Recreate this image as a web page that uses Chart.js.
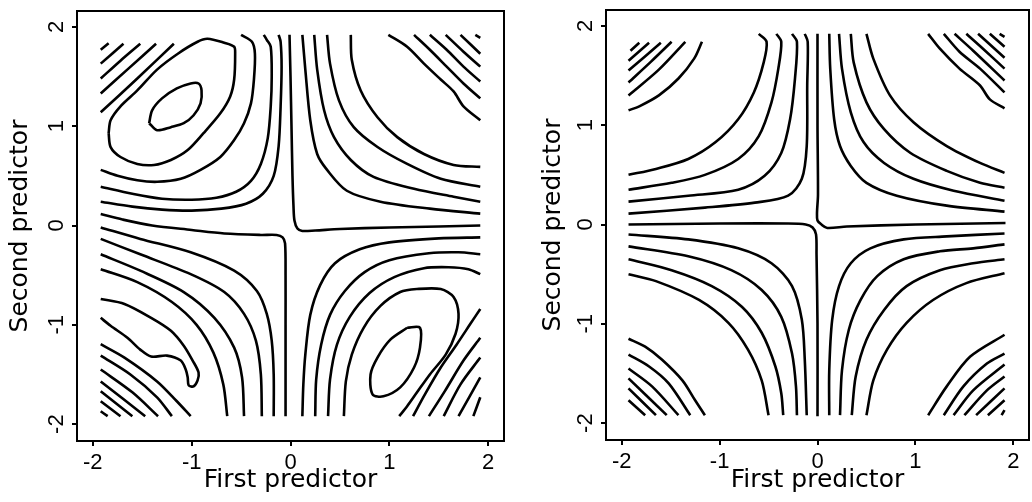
<!DOCTYPE html>
<html>
<head>
<meta charset="utf-8">
<script src="https://cdn.jsdelivr.net/npm/chart.js@4.4.1/dist/chart.umd.min.js"></script>
<style>
  html, body { margin: 0; padding: 0; background: #fff; }
  #wrap { position: relative; width: 1032px; height: 502px; }
  .panel { position: absolute; top: 0; height: 502px; }
</style>
</head>
<body>
<div id="wrap">
  <div class="panel" style="left:0;width:516px"><canvas id="leftChart" width="516" height="502"></canvas></div>
  <div class="panel" style="left:529px;width:503px"><canvas id="rightChart" width="503" height="502"></canvas></div>
</div>
<script>
// axis ticks and titles
const tickValues = [-2, -1, 0, 1, 2];
const xTitle = 'First predictor';
const yTitle = 'Second predictor';

// contour lines, each line is a list of [first, second] points

// left panel
const leftCross = [
  [[-1.92,0.115],[-1.7,0.06],[-1.4,0.0],[-1.0,-0.045],[-0.67,-0.08],[-0.3,-0.095],[-0.14,-0.095],[-0.08,-0.12],[-0.055,-0.18],[-0.05,-0.5],[-0.05,-1.0],[-0.05,-1.5],[-0.05,-1.92]],
  [[-0.01,1.92],[0.0,1.5],[0.01,1.0],[0.02,0.5],[0.03,0.2],[0.04,0.05],[0.07,-0.03],[0.12,-0.055],[0.25,-0.05],[0.5,-0.035],[1.0,-0.02],[1.5,-0.01],[1.92,0.0]]
];
const leftTopLeft = [
  [[-1.92,1.77],[-1.84,1.835]],
  [[-1.92,1.63],[-1.69,1.83]],
  [[-1.92,1.48],[-1.72,1.66],[-1.52,1.83]],
  [[-1.92,1.33],[-1.64,1.58],[-1.36,1.83]],
  [[-1.92,1.14],[-1.55,1.48],[-1.18,1.83]],
  [[-1.84,0.93],[-1.82,1.06],[-1.72,1.2],[-1.55,1.36],[-1.35,1.57],[-1.14,1.73],[-0.94,1.85],[-0.84,1.88],[-0.67,1.84],[-0.57,1.8],[-0.56,1.73],[-0.57,1.47],[-0.61,1.3],[-0.71,1.13],[-0.88,0.93],[-1.04,0.76],[-1.21,0.66],[-1.38,0.61],[-1.55,0.62],[-1.72,0.69],[-1.82,0.79],[-1.84,0.93]],
  [[-1.43,1.03],[-1.4,1.16],[-1.3,1.28],[-1.15,1.38],[-1.01,1.43],[-0.93,1.43],[-0.9,1.36],[-0.91,1.23],[-0.98,1.11],[-1.08,1.03],[-1.21,0.99],[-1.35,0.96],[-1.43,1.03]],
  [[-1.92,0.56],[-1.75,0.5],[-1.55,0.455],[-1.35,0.44],[-1.11,0.47],[-0.91,0.56],[-0.71,0.69],[-0.57,0.86],[-0.47,1.03],[-0.4,1.23],[-0.37,1.47],[-0.36,1.73],[-0.39,1.85],[-0.5,1.92]],
  [[-1.92,0.39],[-1.6,0.32],[-1.3,0.27],[-1.0,0.26],[-0.75,0.28],[-0.55,0.34],[-0.4,0.45],[-0.3,0.62],[-0.23,0.88],[-0.2,1.2],[-0.19,1.5],[-0.2,1.8],[-0.24,1.87],[-0.27,1.92]],
  [[-1.92,0.24],[-1.6,0.19],[-1.3,0.16],[-1.0,0.15],[-0.7,0.17],[-0.45,0.22],[-0.28,0.32],[-0.17,0.5],[-0.12,0.8],[-0.1,1.2],[-0.09,1.6],[-0.1,1.85],[-0.12,1.92]]
];
const leftTopRight = [
  [[0.12,1.92],[0.15,1.57],[0.2,1.06],[0.27,0.72],[0.37,0.56],[0.57,0.35],[0.91,0.24],[1.41,0.17],[1.92,0.12]],
  [[0.24,1.92],[0.27,1.57],[0.34,1.16],[0.44,0.89],[0.61,0.66],[0.84,0.49],[1.25,0.37],[1.65,0.29],[1.92,0.24]],
  [[0.37,1.92],[0.4,1.63],[0.49,1.26],[0.64,0.99],[0.88,0.79],[1.18,0.62],[1.52,0.47],[1.92,0.39]],
  [[0.61,1.92],[0.62,1.67],[0.71,1.36],[0.88,1.09],[1.08,0.89],[1.35,0.72],[1.65,0.61],[1.92,0.59]],
  [[0.99,1.92],[1.18,1.8],[1.35,1.63],[1.52,1.47],[1.65,1.35],[1.75,1.2],[1.92,1.06]],
  [[1.25,1.92],[1.41,1.77],[1.58,1.6],[1.75,1.43],[1.92,1.28]],
  [[1.41,1.92],[1.58,1.77],[1.75,1.6],[1.92,1.45]],
  [[1.57,1.92],[1.75,1.75],[1.92,1.6]],
  [[1.72,1.92],[1.92,1.73]],
  [[1.87,1.92],[1.92,1.89]]
];
const leftBottomLeft = [
  [[-1.92,-0.02],[-1.52,-0.135],[-1.01,-0.27],[-0.57,-0.455],[-0.34,-0.66],[-0.24,-0.89],[-0.19,-1.16],[-0.17,-1.5],[-0.17,-1.92]],
  [[-1.92,-0.135],[-1.52,-0.29],[-1.01,-0.49],[-0.67,-0.67],[-0.47,-0.89],[-0.35,-1.16],[-0.3,-1.5],[-0.29,-1.92]],
  [[-1.92,-0.29],[-1.52,-0.455],[-1.08,-0.67],[-0.77,-0.93],[-0.57,-1.23],[-0.49,-1.53],[-0.47,-1.92]],
  [[-1.92,-0.44],[-1.55,-0.57],[-1.2,-0.77],[-0.95,-1.0],[-0.78,-1.28],[-0.68,-1.6],[-0.64,-1.92]],
  [[-1.92,-0.74],[-1.68,-0.79],[-1.41,-0.93],[-1.21,-1.06],[-1.08,-1.21],[-0.99,-1.36],[-0.93,-1.48],[-0.94,-1.56],[-0.98,-1.62],[-1.03,-1.61],[-1.04,-1.53],[-1.06,-1.45],[-1.11,-1.36],[-1.25,-1.31],[-1.41,-1.32],[-1.52,-1.25],[-1.65,-1.13],[-1.82,-1.01],[-1.92,-0.93]],
  [[-1.92,-1.195],[-1.68,-1.33],[-1.35,-1.57],[-1.15,-1.77],[-1.01,-1.92]],
  [[-1.92,-1.31],[-1.62,-1.5],[-1.35,-1.73],[-1.2,-1.92]],
  [[-1.92,-1.45],[-1.6,-1.68],[-1.34,-1.92]],
  [[-1.92,-1.57],[-1.47,-1.92]],
  [[-1.92,-1.67],[-1.6,-1.92]],
  [[-1.92,-1.77],[-1.72,-1.92]],
  [[-1.92,-1.87],[-1.85,-1.92]]
];
const leftBottomRight = [
  [[1.92,-0.12],[1.5,-0.13],[1.0,-0.17],[0.7,-0.24],[0.45,-0.38],[0.3,-0.6],[0.2,-0.9],[0.15,-1.3],[0.13,-1.6],[0.12,-1.92]],
  [[1.92,-0.29],[1.7,-0.27],[1.4,-0.28],[1.0,-0.35],[0.75,-0.47],[0.55,-0.66],[0.4,-0.9],[0.31,-1.2],[0.26,-1.55],[0.25,-1.92]],
  [[1.92,-0.49],[1.8,-0.44],[1.6,-0.42],[1.35,-0.43],[1.05,-0.52],[0.8,-0.68],[0.6,-0.92],[0.47,-1.2],[0.4,-1.55],[0.38,-1.92]],
  [[0.54,-1.92],[0.56,-1.57],[0.62,-1.3],[0.74,-1.03],[0.91,-0.81],[1.11,-0.67],[1.28,-0.64],[1.52,-0.64],[1.65,-0.72],[1.7,-0.89],[1.67,-1.09],[1.57,-1.3],[1.41,-1.5],[1.28,-1.68],[1.18,-1.82],[1.1,-1.92]],
  [[1.18,-1.03],[1.31,-1.03],[1.31,-1.23],[1.25,-1.43],[1.11,-1.63],[0.94,-1.72],[0.83,-1.7],[0.81,-1.5],[0.88,-1.33],[1.01,-1.15],[1.18,-1.03]],
  [[1.92,-0.84],[1.82,-0.99],[1.68,-1.2],[1.52,-1.43],[1.36,-1.7],[1.24,-1.92]],
  [[1.92,-1.13],[1.75,-1.36],[1.56,-1.67],[1.4,-1.92]],
  [[1.92,-1.33],[1.72,-1.6],[1.55,-1.92]],
  [[1.92,-1.53],[1.7,-1.92]],
  [[1.92,-1.73],[1.85,-1.92]]
];

// right panel
const rightCross = [
  [[-1.93,0.0],[-1.0,0.01],[-0.3,0.01],[-0.12,0.0],[-0.05,-0.03],[-0.015,-0.1],[-0.01,-0.3],[0.0,-1.0],[0.0,-1.93]],
  [[0.0,1.92],[0.0,1.0],[0.005,0.3],[-0.005,0.12],[0.0,0.04],[0.04,0.0],[0.1,-0.035],[0.3,-0.02],[1.0,0.0],[1.92,0.015]]
];
const rightTopLeft = [
  [[-1.91,1.75],[-1.82,1.83]],
  [[-1.93,1.65],[-1.72,1.83]],
  [[-1.93,1.55],[-1.6,1.83]],
  [[-1.93,1.43],[-1.7,1.64],[-1.49,1.84]],
  [[-1.93,1.3],[-1.62,1.56],[-1.35,1.84]],
  [[-1.93,1.15],[-1.82,1.19],[-1.62,1.3],[-1.42,1.47],[-1.26,1.67],[-1.18,1.84]],
  [[-1.93,0.5],[-1.65,0.56],[-1.32,0.66],[-1.04,0.83],[-0.81,1.06],[-0.65,1.33],[-0.55,1.63],[-0.52,1.84],[-0.6,1.92]],
  [[-1.93,0.35],[-1.49,0.42],[-1.15,0.5],[-0.81,0.66],[-0.6,0.89],[-0.47,1.23],[-0.4,1.57],[-0.37,1.84],[-0.42,1.92]],
  [[-1.93,0.23],[-1.32,0.29],[-0.81,0.35],[-0.54,0.49],[-0.37,0.72],[-0.28,1.06],[-0.23,1.47],[-0.21,1.84],[-0.26,1.92]],
  [[-1.93,0.11],[-1.15,0.17],[-0.64,0.22],[-0.3,0.29],[-0.16,0.46],[-0.11,0.79],[-0.105,1.4],[-0.1,1.84],[-0.13,1.92]]
];
const rightTopRight = [
  [[0.12,1.92],[0.13,1.57],[0.17,1.06],[0.23,0.79],[0.34,0.59],[0.5,0.42],[0.81,0.29],[1.32,0.19],[1.91,0.13]],
  [[0.22,1.92],[0.25,1.57],[0.34,1.13],[0.47,0.83],[0.68,0.62],[0.98,0.46],[1.39,0.34],[1.91,0.24]],
  [[0.34,1.92],[0.37,1.63],[0.5,1.23],[0.68,0.96],[0.95,0.72],[1.32,0.54],[1.66,0.42],[1.91,0.37]],
  [[0.5,1.92],[0.57,1.67],[0.74,1.3],[0.98,1.03],[1.32,0.79],[1.66,0.62],[1.91,0.52]],
  [[1.13,1.92],[1.25,1.77],[1.45,1.57],[1.66,1.4],[1.76,1.26],[1.91,1.17]],
  [[1.29,1.92],[1.45,1.74],[1.66,1.57],[1.91,1.33]],
  [[1.4,1.92],[1.59,1.75],[1.91,1.45]],
  [[1.52,1.92],[1.69,1.77],[1.91,1.57]],
  [[1.64,1.92],[1.91,1.68]],
  [[1.76,1.92],[1.91,1.79]],
  [[1.86,1.92],[1.91,1.89]]
];
const rightBottomLeft = [
  [[-1.93,-0.1],[-1.32,-0.15],[-0.81,-0.24],[-0.47,-0.39],[-0.26,-0.62],[-0.16,-0.96],[-0.13,-1.36],[-0.11,-1.92]],
  [[-1.93,-0.22],[-1.32,-0.32],[-0.88,-0.46],[-0.57,-0.66],[-0.37,-0.93],[-0.26,-1.3],[-0.22,-1.63],[-0.21,-1.92]],
  [[-1.93,-0.35],[-1.49,-0.46],[-1.08,-0.62],[-0.77,-0.83],[-0.57,-1.09],[-0.43,-1.43],[-0.37,-1.7],[-0.35,-1.92]],
  [[-1.93,-0.5],[-1.65,-0.57],[-1.21,-0.76],[-0.91,-0.99],[-0.71,-1.26],[-0.57,-1.57],[-0.5,-1.92]],
  [[-1.93,-1.15],[-1.76,-1.23],[-1.59,-1.36],[-1.38,-1.57],[-1.25,-1.77],[-1.15,-1.92]],
  [[-1.93,-1.31],[-1.72,-1.43],[-1.52,-1.6],[-1.3,-1.92]],
  [[-1.93,-1.45],[-1.69,-1.63],[-1.42,-1.92]],
  [[-1.93,-1.55],[-1.54,-1.92]],
  [[-1.93,-1.65],[-1.65,-1.92]],
  [[-1.93,-1.77],[-1.76,-1.92]]
];
const rightBottomRight = [
  [[0.12,-1.92],[0.12,-1.47],[0.15,-0.96],[0.22,-0.62],[0.34,-0.39],[0.54,-0.24],[0.88,-0.15],[1.32,-0.12],[1.91,-0.09]],
  [[0.23,-1.92],[0.25,-1.47],[0.32,-1.06],[0.44,-0.76],[0.61,-0.52],[0.88,-0.35],[1.25,-0.27],[1.59,-0.24],[1.91,-0.2]],
  [[0.35,-1.92],[0.39,-1.53],[0.5,-1.16],[0.68,-0.86],[0.91,-0.62],[1.25,-0.46],[1.59,-0.39],[1.91,-0.35]],
  [[0.5,-1.92],[0.57,-1.57],[0.71,-1.26],[0.91,-0.99],[1.18,-0.76],[1.52,-0.59],[1.91,-0.49]],
  [[1.13,-1.92],[1.32,-1.63],[1.56,-1.33],[1.91,-1.11]],
  [[1.29,-1.92],[1.49,-1.63],[1.73,-1.4],[1.91,-1.3]],
  [[1.39,-1.92],[1.59,-1.67],[1.91,-1.41]],
  [[1.5,-1.92],[1.73,-1.67],[1.91,-1.53]],
  [[1.62,-1.92],[1.91,-1.65]],
  [[1.74,-1.92],[1.91,-1.77]],
  [[1.88,-1.92],[1.91,-1.87]]
];

Chart.defaults.font.family = '"Liberation Sans", Arial, sans-serif';
Chart.defaults.color = '#000';

// box round the plot plus y tick labels written along the axis
const framePlugin = {
  id: 'frame',
  afterDatasetsDraw(chart) {
    const { ctx, chartArea: a, scales } = chart;
    ctx.save();
    ctx.strokeStyle = '#000';
    ctx.lineWidth = 2;
    ctx.strokeRect(a.left, a.top, a.right - a.left, a.bottom - a.top);
    ctx.fillStyle = '#000';
    ctx.font = '22px "Liberation Sans", Arial, sans-serif';
    ctx.textAlign = 'center';
    ctx.textBaseline = 'middle';
    tickValues.forEach(v => {
      ctx.save();
      ctx.translate(a.left - 20, scales.y.getPixelForValue(v));
      ctx.rotate(-Math.PI / 2);
      ctx.fillText(String(v), 0, 0);
      ctx.restore();
    });
    ctx.restore();
  }
};

function makePanel(id, lines, pad, xHeight, yTitlePad) {
  const datasets = lines.map(line => ({
    data: line.map(([x, y]) => ({ x, y })),
    showLine: true,
    pointRadius: 0,
    borderColor: '#000',
    borderWidth: 2.6,
    tension: 0.3
  }));
  return new Chart(document.getElementById(id), {
    type: 'scatter',
    data: { datasets },
    options: {
      responsive: false,
      animation: false,
      layout: { padding: pad },
      plugins: { legend: { display: false }, tooltip: { enabled: false } },
      scales: {
        x: {
          type: 'linear', min: -2.16, max: 2.16,
          afterBuildTicks: s => { s.ticks = tickValues.map(v => ({ value: v })); },
          afterFit: s => { s.height = xHeight; },
          ticks: { font: { size: 22 }, color: '#000', padding: 4, maxRotation: 0 },
          grid: { drawOnChartArea: false, drawTicks: true, tickLength: 5, color: '#000', lineWidth: 2 },
          border: { display: false },
          title: { display: true, text: xTitle, color: '#000',
                   font: { family: '"DejaVu Sans", sans-serif', size: 25 },
                   padding: { top: 0, bottom: 7 } }
        },
        y: {
          type: 'linear', min: -2.17, max: 2.16,
          afterBuildTicks: s => { s.ticks = tickValues.map(v => ({ value: v })); },
          afterFit: s => { s.width = 77; },
          ticks: { display: false },
          grid: { drawOnChartArea: false, drawTicks: true, tickLength: 5, color: '#000', lineWidth: 2 },
          border: { display: false },
          title: { display: true, text: yTitle, color: '#000',
                   font: { family: '"DejaVu Sans", sans-serif', size: 25 },
                   padding: { top: yTitlePad, bottom: 0 } }
        }
      }
    },
    plugins: [framePlugin]
  });
}

makePanel('leftChart',
  [...leftCross, ...leftTopLeft, ...leftTopRight, ...leftBottomLeft, ...leftBottomRight],
  { left: 0, top: 11, right: 12, bottom: 0 }, 61, 5.4);
makePanel('rightChart',
  [...rightCross, ...rightTopLeft, ...rightTopRight, ...rightBottomLeft, ...rightBottomRight],
  { left: 0, top: 10, right: 3, bottom: 0 }, 62, 9);
</script>
</body>
</html>
